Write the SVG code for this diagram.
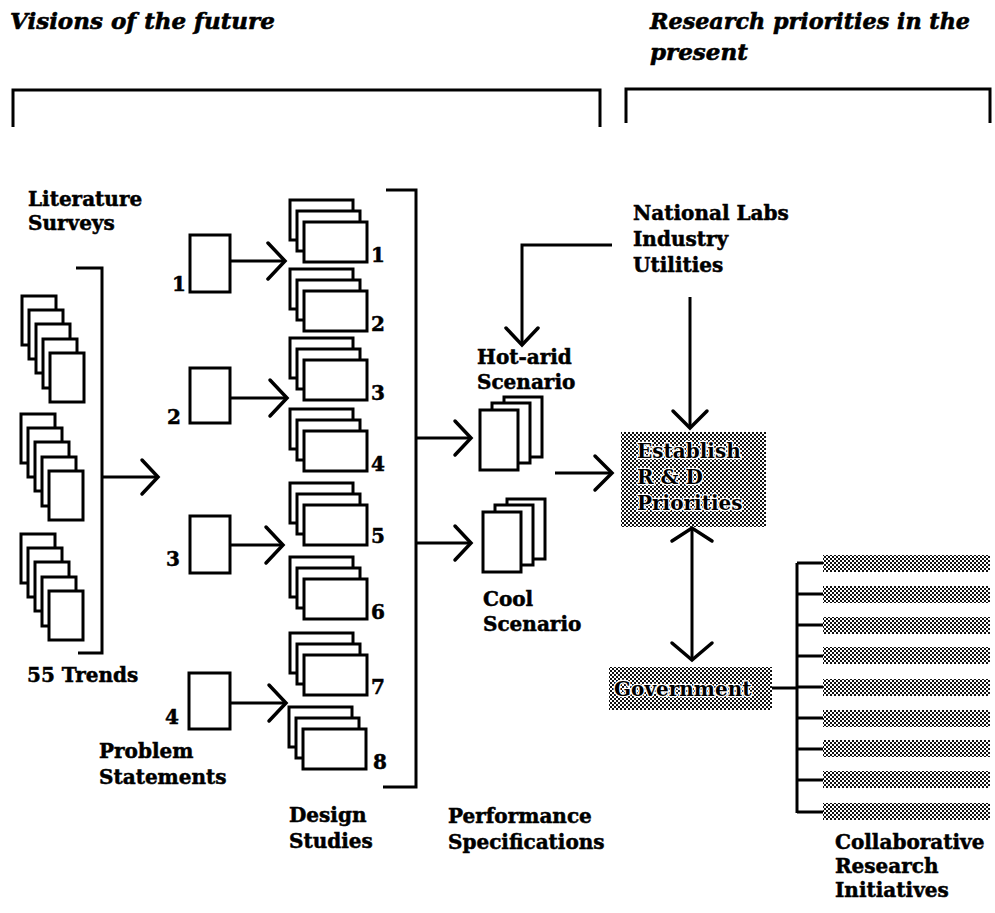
<svg xmlns="http://www.w3.org/2000/svg" width="995" height="913" viewBox="0 0 995 913">
<style>
.t{font-family:"DejaVu Serif","Liberation Serif",serif;font-weight:bold;font-size:20px;fill:#000;stroke:#000;stroke-width:0.5}
.w{paint-order:stroke;stroke:#fff;stroke-width:2.5;stroke-linejoin:round}
.h{font-family:"DejaVu Serif","Liberation Serif",serif;font-weight:bold;font-style:italic;font-size:23px;fill:#000;stroke:#000;stroke-width:0.6}
.b{fill:#fff;stroke:#000;stroke-width:3}
.l{fill:none;stroke:#000;stroke-width:3}
.a{fill:none;stroke:#000;stroke-width:3.5;stroke-linecap:round;stroke-linejoin:miter}
.sh{fill:url(#ht)}
</style>
<defs>
<pattern id="ht" x="0" y="0" width="4" height="4" patternUnits="userSpaceOnUse">
<rect x="0" y="0" width="4" height="4" fill="#fff"/>
<rect x="0" y="0" width="2" height="2" fill="#111"/>
<rect x="2" y="2" width="2" height="2" fill="#111"/>
</pattern>
<g id="trend">
<rect class="b" x="0" y="0" width="34" height="49"/>
<rect class="b" x="7" y="14" width="34" height="49"/>
<rect class="b" x="14" y="28" width="34" height="49"/>
<rect class="b" x="21" y="43" width="34" height="49"/>
<rect class="b" x="28" y="57" width="34" height="49"/>
</g>
<g id="study">
<rect class="b" x="0" y="0" width="63" height="40"/>
<rect class="b" x="7" y="11" width="63" height="40"/>
<rect class="b" x="14" y="22" width="63" height="40"/>
</g>
<g id="scen">
<rect class="b" x="24" y="-13" width="38" height="60"/>
<rect class="b" x="12" y="-7" width="38" height="60"/>
<rect class="b" x="0" y="0" width="38" height="60"/>
</g>
</defs>

<g id="headings">
<text class="h" x="10" y="29">Visions of the future</text>
<text class="h" x="650" y="29" textLength="320" lengthAdjust="spacingAndGlyphs">Research priorities in the</text>
<text class="h" x="650" y="60">present</text>
<path class="l" d="M13,127 V90 H600 V127"/>
<path class="l" d="M626,123 V89 H990 V123"/>
</g>

<g id="trends">
<text class="t" x="28" y="206">Literature</text>
<text class="t" x="28" y="230">Surveys</text>
<use href="#trend" x="22" y="296"/>
<use href="#trend" x="21" y="414"/>
<use href="#trend" x="21" y="534"/>
<text class="t" x="27" y="682">55 Trends</text>
</g>

<g id="problems">
<rect class="b" x="190" y="235" width="40" height="57"/>
<text class="t" x="172" y="291">1</text>
<rect class="b" x="190" y="368" width="40" height="55"/>
<text class="t" x="167" y="424">2</text>
<rect class="b" x="190" y="516" width="40" height="57"/>
<text class="t" x="166" y="566">3</text>
<rect class="b" x="189" y="673" width="41" height="56"/>
<text class="t" x="165" y="724">4</text>
<text class="t" x="99" y="758">Problem</text>
<text class="t" x="99" y="784">Statements</text>
</g>

<g id="studies">
<use href="#study" x="290" y="200"/><text class="t" x="371" y="262">1</text>
<use href="#study" x="290" y="269"/><text class="t" x="371" y="331">2</text>
<use href="#study" x="290" y="338"/><text class="t" x="371" y="400">3</text>
<use href="#study" x="290" y="409"/><text class="t" x="371" y="471">4</text>
<use href="#study" x="290" y="483"/><text class="t" x="371" y="543">5</text>
<use href="#study" x="290" y="557"/><text class="t" x="371" y="619">6</text>
<use href="#study" x="290" y="633"/><text class="t" x="371" y="694">7</text>
<use href="#study" x="289" y="707"/><text class="t" x="373" y="769">8</text>
<text class="t" x="289" y="822">Design</text>
<text class="t" x="289" y="848">Studies</text>
</g>

<g id="scenarios">
<text class="t" x="477" y="364">Hot-arid</text>
<text class="t" x="477" y="389">Scenario</text>
<use href="#scen" x="480" y="410"/>
<use href="#scen" x="483" y="512"/>
<text class="t" x="483" y="606">Cool</text>
<text class="t" x="483" y="631">Scenario</text>
<text class="t" x="448" y="823">Performance</text>
<text class="t" x="448" y="849">Specifications</text>
</g>

<g id="stakeholders">
<text class="t" x="633" y="220">National Labs</text>
<text class="t" x="633" y="246">Industry</text>
<text class="t" x="633" y="272">Utilities</text>
</g>

<g id="establish">
<rect class="sh" x="621" y="432" width="145" height="95"/>
<text class="t w" x="637" y="458">Establish</text>
<text class="t w" x="637" y="484">R &amp; D</text>
<text class="t w" x="637" y="510">Priorities</text>
</g>

<g id="government">
<rect class="sh" x="609" y="667" width="163" height="43"/>
<text class="t w" x="614" y="696">Government</text>
</g>

<g id="initiatives">
<rect class="sh" x="823" y="555" width="167" height="17"/>
<rect class="sh" x="823" y="586" width="167" height="17"/>
<rect class="sh" x="823" y="617" width="167" height="17"/>
<rect class="sh" x="823" y="647" width="167" height="17"/>
<rect class="sh" x="823" y="679" width="167" height="17"/>
<rect class="sh" x="823" y="710" width="167" height="17"/>
<rect class="sh" x="823" y="740" width="167" height="17"/>
<rect class="sh" x="823" y="771" width="167" height="17"/>
<rect class="sh" x="823" y="803" width="167" height="17"/>
<text class="t" x="835" y="849">Collaborative</text>
<text class="t" x="835" y="873">Research</text>
<text class="t" x="835" y="897">Initiatives</text>
</g>

<g id="connectors">
<path class="l" d="M76,268 H102 V653 H78"/>
<path class="l" d="M102,477 H157"/>
<path class="a" d="M142,460 L158,477 L142,494"/>

<path class="l" d="M230,261 H284"/>
<path class="a" d="M268,243 L285,261 L268,279"/>
<path class="l" d="M230,398 H286"/>
<path class="a" d="M270,380 L287,398 L270,416"/>
<path class="l" d="M230,545 H282"/>
<path class="a" d="M266,527 L283,545 L266,563"/>
<path class="l" d="M230,703 H285"/>
<path class="a" d="M269,685 L286,703 L269,721"/>

<path class="l" d="M386,190 H416 V787 H383"/>
<path class="l" d="M416,438 H470"/>
<path class="a" d="M455,421 L471,438 L455,455"/>
<path class="l" d="M416,543 H470"/>
<path class="a" d="M455,526 L471,543 L455,560"/>

<path class="l" d="M612,245 H522 V344"/>
<path class="a" d="M506,328 L522,345 L538,328"/>
<path class="l" d="M690,297 V426"/>
<path class="a" d="M673,411 L690,428 L707,411"/>
<path class="l" d="M555,473 H611"/>
<path class="a" d="M595,456 L612,473 L595,490"/>

<path class="l" d="M692,530 V658"/>
<path class="a" d="M672,541 L692,528 L712,541"/>
<path class="a" d="M672,643 L692,660 L712,643"/>

<path class="l" d="M772,688 H797"/>
<path class="l" d="M797,563 V813"/>
<path class="l" d="M797,563 H823 M797,594 H823 M797,625 H823 M797,656 H823 M797,687 H823 M797,718 H823 M797,749 H823 M797,780 H823 M797,812 H823"/>
</g>
</svg>
